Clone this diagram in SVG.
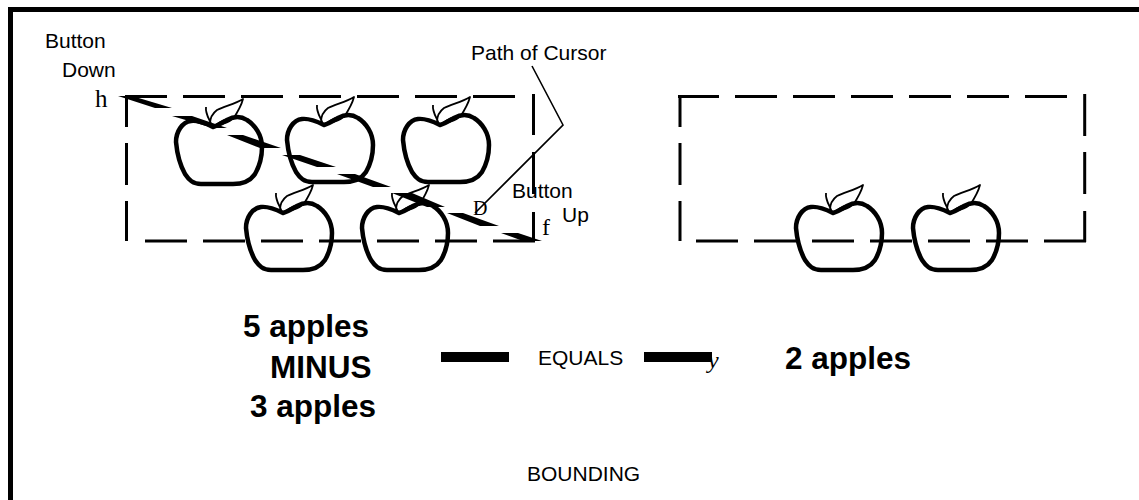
<svg xmlns="http://www.w3.org/2000/svg" width="1139" height="500" viewBox="0 0 1139 500">
<style>
.t{font-family:"Liberation Sans",Arial,sans-serif;fill:#000}
.s{font-size:21px}
.b{font-size:31.5px;font-weight:bold}
.m{font-family:"Liberation Serif",serif;fill:#000}
.d{fill:none;stroke:#000;stroke-width:3}
.ab{fill:none;stroke:#000;stroke-width:4.5;stroke-linejoin:round}
.al{fill:none;stroke:#000;stroke-width:1.8;stroke-linejoin:round}
</style>
<defs>
<g id="apple">
<path class="ab" d="M0,0C-6,-3 -14,-7 -22,-6C-31,-5 -37,5 -37,15C-36,26 -33,38 -28,47C-24,53 -20,57 -12,57L20,57C31,57 38,53 42,47C46,40 49,30 49,20C49,8 42,-2 34,-7C28,-11 21,-11 14,-7C9,-4 4,-1 0,0Z"/>
<path class="al" d="M-1,0C-2,-6 -8,-12 -7,-20M-3,-3C-3,-9 0,-14 4,-17C12,-21 22,-23 30,-28C28,-20 24,-14 20,-8C14,-9 8,-6 3,-2C8,-3 14,-3 19,-8"/>
</g>
</defs>
<rect x="10.5" y="9.5" width="1200" height="600" fill="none" stroke="#000" stroke-width="5"/>
<g id="bounding-left"><path class="d" d="M125,96.5H167M183,96.5H225M241,96.5H283M299,96.5H341M357,96.5H399M415,96.5H457M473,96.5H515M126.5,96V127M126.5,143V185M126.5,201V241M145,241H187M203,241H245M261,241H303M319,241H361M377,241H419M435,241H477M493,241H535M533.5,94V135M533.5,152V194M533.5,212V241"/></g>
<g id="bounding-right"><path class="d" d="M678,96.5H719M735,96.5H777M793,96.5H835M851,96.5H893M909,96.5H951M967,96.5H1009M1025,96.5H1067M680,96V127M680,143V185M680,201V241M696,241H738M754,241H796M812,241H854M870,241H912M928,241H970M986,241H1028M1044,241H1086M1084.7,94V136M1084.7,152V194M1084.7,211V242"/></g>
<g id="apple-1"><use href="#apple" x="213" y="127"/></g>
<g id="apple-2"><use href="#apple" x="324" y="125"/></g>
<g id="apple-3"><use href="#apple" x="440" y="125"/></g>
<g id="apple-4"><use href="#apple" x="283" y="213"/></g>
<g id="apple-5"><use href="#apple" x="399" y="213"/></g>
<g id="apple-6"><use href="#apple" x="833" y="213"/></g>
<g id="apple-7"><use href="#apple" x="950" y="213"/></g>
<g id="connectors">
<path d="M118,96H132L172,108H155ZM172,116H192L227,128H213ZM227,135H243L281,148H260ZM282,155H300L336,167H317ZM337,174H355L391,187H373ZM392,193H412L445,207H427ZM447,213H463L499,226H480ZM501,233H518L542,241H523Z" fill="#000"/>
<path d="M532,66L563,125L475,213" fill="none" stroke="#000" stroke-width="1.6"/>
</g>
<rect x="441" y="352" width="68" height="10" fill="#000"/>
<rect x="644" y="352" width="68" height="10" fill="#000"/>
<text class="t s" x="45" y="48">Button</text>
<text class="t s" x="62" y="77">Down</text>
<text class="t s" x="471" y="60">Path of Cursor</text>
<text class="t s" x="512" y="198">Button</text>
<text class="t s" x="562" y="222">Up</text>
<text class="t s" x="538" y="365">EQUALS</text>
<text class="t s" x="527" y="481">BOUNDING</text>
<text class="m" x="95" y="107" font-size="25">h</text>
<text class="m" x="473" y="215" font-size="20">D</text>
<text class="m" x="542" y="235" font-size="24">f</text>
<text class="m" x="708" y="368" font-size="24" font-style="italic">y</text>
<text class="t b" x="243" y="337">5 apples</text>
<text class="t b" x="270" y="378">MINUS</text>
<text class="t b" x="250" y="417">3 apples</text>
<text class="t b" x="785" y="369">2 apples</text>
</svg>
